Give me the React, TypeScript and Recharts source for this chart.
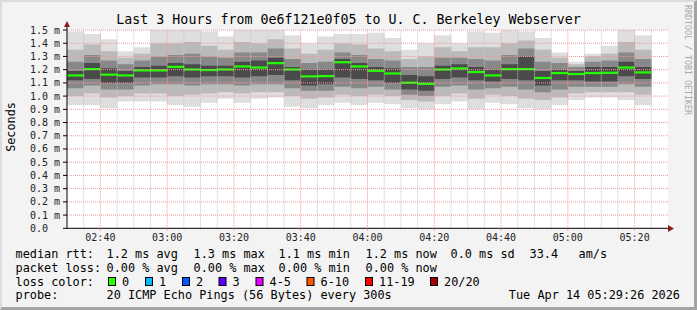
import { ComposedChart, Bar, XAxis, YAxis, CartesianGrid, ReferenceLine } from 'recharts';

// 5 minute slots, 02:30 .. 05:20 (start of each step)
const slotTimes = [
  '02:30', '02:35', '02:40', '02:45', '02:50', '02:55', '03:00', '03:05', '03:10', '03:15',
  '03:20', '03:25', '03:30', '03:35', '03:40', '03:45', '03:50', '03:55', '04:00', '04:05',
  '04:10', '04:15', '04:20', '04:25', '04:30', '04:35', '04:40', '04:45', '04:50', '04:55',
  '05:00', '05:05', '05:10', '05:15', '05:20',
];

// values in ms
const minRtt = [0.93, 0.93, 0.91, 0.96, 0.96, 0.96, 0.93, 0.92, 0.95, 0.98, 0.95, 0.98, 0.99, 0.92, 0.91, 0.93, 0.95, 0.93, 0.95, 0.94, 0.91, 0.9, 0.94, 0.96, 0.9, 0.95, 0.94, 0.91, 0.9, 0.93, 0.97, 0.99, 0.99, 0.97, 0.93];
const lowOuter = [1.0, 1.02, 0.99, 1.0, 1.02, 1.02, 1.0, 1.01, 1.02, 1.03, 1.02, 1.03, 1.03, 1.0, 0.98, 0.99, 1.01, 1.0, 1.01, 1.0, 0.97, 0.96, 1.0, 1.02, 0.98, 1.01, 1.0, 0.98, 0.97, 0.99, 1.02, 1.03, 1.03, 1.03, 1.01];
const lowInner = [1.06, 1.08, 1.05, 1.05, 1.08, 1.09, 1.09, 1.08, 1.09, 1.09, 1.08, 1.09, 1.09, 1.06, 1.04, 1.04, 1.07, 1.06, 1.07, 1.05, 1.01, 1.0, 1.07, 1.08, 1.05, 1.06, 1.07, 1.05, 1.03, 1.05, 1.07, 1.07, 1.07, 1.09, 1.07];
const lowCore = [1.12, 1.13, 1.1, 1.1, 1.14, 1.14, 1.15, 1.14, 1.15, 1.15, 1.14, 1.15, 1.16, 1.12, 1.08, 1.09, 1.14, 1.13, 1.12, 1.1, 1.05, 1.04, 1.13, 1.14, 1.12, 1.11, 1.13, 1.12, 1.08, 1.12, 1.12, 1.11, 1.11, 1.15, 1.13];
const medianRtt = [1.157, 1.205, 1.163, 1.157, 1.195, 1.195, 1.222, 1.202, 1.198, 1.202, 1.225, 1.217, 1.25, 1.202, 1.15, 1.152, 1.257, 1.225, 1.192, 1.172, 1.102, 1.093, 1.202, 1.21, 1.183, 1.157, 1.205, 1.205, 1.138, 1.175, 1.168, 1.175, 1.177, 1.217, 1.18];
const highCore = [1.19, 1.25, 1.21, 1.19, 1.22, 1.23, 1.25, 1.24, 1.23, 1.23, 1.26, 1.27, 1.29, 1.22, 1.2, 1.2, 1.28, 1.25, 1.22, 1.21, 1.16, 1.15, 1.23, 1.24, 1.22, 1.2, 1.24, 1.3, 1.19, 1.2, 1.19, 1.22, 1.22, 1.26, 1.22];
const highInner = [1.26, 1.31, 1.27, 1.24, 1.27, 1.3, 1.31, 1.32, 1.3, 1.29, 1.33, 1.33, 1.36, 1.28, 1.25, 1.26, 1.33, 1.31, 1.28, 1.27, 1.22, 1.22, 1.29, 1.29, 1.28, 1.27, 1.31, 1.36, 1.26, 1.25, 1.22, 1.26, 1.27, 1.33, 1.28];
const highOuter = [1.35, 1.39, 1.34, 1.29, 1.32, 1.4, 1.4, 1.41, 1.38, 1.35, 1.41, 1.4, 1.43, 1.36, 1.32, 1.35, 1.4, 1.39, 1.36, 1.34, 1.28, 1.3, 1.37, 1.34, 1.37, 1.37, 1.4, 1.42, 1.35, 1.29, 1.24, 1.3, 1.32, 1.41, 1.35];
const maxRtt = [1.49, 1.47, 1.43, 1.34, 1.37, 1.51, 1.5, 1.5, 1.49, 1.45, 1.5, 1.5, 1.51, 1.46, 1.4, 1.45, 1.47, 1.47, 1.48, 1.44, 1.35, 1.4, 1.46, 1.4, 1.49, 1.48, 1.51, 1.49, 1.44, 1.33, 1.26, 1.32, 1.38, 1.51, 1.46];

// x axis in minutes after 02:30
const xTickMinutes = [10, 30, 50, 70, 90, 110, 130, 150, 170];
const xTickLabels = ['02:40', '03:00', '03:20', '03:40', '04:00', '04:20', '04:40', '05:00', '05:20'];
const yTicks = [0, 0.1, 0.2, 0.3, 0.4, 0.5, 0.6, 0.7, 0.8, 0.9, 1.0, 1.1, 1.2, 1.3, 1.4, 1.5];

const lossLabels = ['0', '1', '2', '3', '4-5', '6-10', '11-19', '20/20'];
const lossColors = ['#26ff00', '#00b8ff', '#0059ff', '#5e00ff', '#e600ff', '#ff5500', '#ff0000', '#a10000'];

const rows: any[] = slotTimes.map((t, i) => ({
  t,
  outer: [minRtt[i], maxRtt[i]],
  l2: [lowOuter[i], highOuter[i]],
  l3: [lowInner[i], highInner[i]],
  l4: [lowCore[i], highCore[i]],
  median: medianRtt[i],
}));
rows.push({ t: '05:25' }); // empty last step

const MONO = 'DejaVu Sans Mono';
const W = 697;
const H = 310;

const minorMinutes = Array.from({ length: 35 }, (_, i) => (i + 1) * 5).filter((m) => (m - 10) % 20 !== 0);

function MedianMark(props: any) {
  const { x, y, width, height } = props;
  if (y == null || !height) return <g />;
  return <rect x={x} y={y - 1} width={width} height={2.2} fill="#22ff00" />;
}

function YTick(props: any) {
  const v = props.payload.value;
  const label = v === 0 ? '0.0' : v.toFixed(1) + ' m';
  return (
    <text x={props.x - 30} y={props.y} dy="0.35em" fontSize={10} fontFamily={MONO} fill="#222" textAnchor="start">
      {label}
    </text>
  );
}

const legendLine1: [string, number][] = [
  ['median rtt:', 16], ['1.2 ms avg', 107], ['1.3 ms max', 194], ['1.1 ms min', 279],
  ['1.2 ms now', 366], ['0.0 ms sd', 451], ['33.4', 530], ['am/s', 579],
];
const legendLine2: [string, number][] = [
  ['packet loss:', 16], ['0.00 % avg', 107], ['0.00 % max', 194], ['0.00 % min', 279], ['0.00 % now', 366],
];
const swatchX = [108.5, 145.5, 182.5, 219, 256, 307, 365.5, 430.5];

export default function App() {
  const bandAxes = ['a', 'b', 'c', 'd', 'm'];
  return (
    <div style={{ position: 'relative', width: W, height: H, background: '#f3f3f3', boxSizing: 'border-box' }}>
      <style>{'body{margin:0}'}</style>
      <div style={{ position: 'absolute', inset: 0, borderTop: '2px solid #dcdcdc', borderLeft: '2px solid #dcdcdc', borderRight: '3px solid #a3a3a3', borderBottom: '3px solid #a3a3a3' }} />

      {/* smoke + median */}
      <div style={{ position: 'absolute', left: 0, top: 0 }}>
        <ComposedChart width={W} height={H} data={rows} margin={{ top: 30, right: 29, left: 67, bottom: 81.7 }} barCategoryGap={0} barGap={0}>
          <CartesianGrid fill="#ffffff" horizontal={false} vertical={false} />
          {bandAxes.map((id) => (
            <XAxis key={id} xAxisId={id} dataKey="t" type="category" hide />
          ))}
          <YAxis domain={[0, 1.5]} type="number" hide allowDataOverflow />
          <Bar xAxisId="a" dataKey="outer" fill="#dedede" isAnimationActive={false} />
          <Bar xAxisId="b" dataKey="l2" fill="#bababa" isAnimationActive={false} />
          <Bar xAxisId="c" dataKey="l3" fill="#888888" isAnimationActive={false} />
          <Bar xAxisId="d" dataKey="l4" fill="#4a4a4a" isAnimationActive={false} />
          <Bar xAxisId="m" dataKey="median" shape={<MedianMark />} isAnimationActive={false} />
        </ComposedChart>
      </div>

      {/* grid + axes on top */}
      <div style={{ position: 'absolute', left: 0, top: 0 }}>
        <ComposedChart width={W} height={H} data={xTickMinutes.map((m) => ({ m }))} margin={{ top: 30, right: 29, left: 0, bottom: 61.7 }}>
          <XAxis
            dataKey="m"
            type="number"
            domain={[0, 180]}
            ticks={xTickMinutes}
            interval={0}
            height={20}
            tickFormatter={(v: number) => xTickLabels[xTickMinutes.indexOf(v)] ?? ''}
            tick={{ fontSize: 10, fontFamily: MONO, fill: '#222' }}
            tickSize={2}
            tickMargin={4}
            tickLine={{ stroke: '#e08080' }}
            axisLine={{ stroke: '#000' }}
            allowDataOverflow
          />
          <YAxis
            type="number"
            domain={[0, 1.5]}
            ticks={yTicks}
            interval={0}
            width={67}
            tick={<YTick />}
            tickSize={4}
            tickMargin={3}
            tickLine={{ stroke: '#000' }}
            axisLine={{ stroke: '#000' }}
            allowDataOverflow
          />
          {minorMinutes.map((m) => (
            <ReferenceLine key={'v' + m} x={m} stroke="#c4c4c4" strokeDasharray="1 1" />
          ))}
          {xTickMinutes.map((m) => (
            <ReferenceLine key={'V' + m} x={m} stroke="#f09a9a" strokeDasharray="1 1" />
          ))}
          {yTicks.slice(1).map((v) => (
            <ReferenceLine key={'h' + v} y={v} stroke="#f09a9a" strokeDasharray="1 1" />
          ))}
        </ComposedChart>
      </div>

      {/* texts and decorations */}
      <svg width={W} height={H} style={{ position: 'absolute', left: 0, top: 0, pointerEvents: 'none' }}>
        <text x={348.5} y={23.5} textAnchor="middle" fontFamily={MONO} fontSize={13.3} fill="#000">
          Last 3 Hours from 0e6f121e0f05 to U. C. Berkeley Webserver
        </text>
        <text x={15} y={127} transform="rotate(-90 15 127)" textAnchor="middle" fontFamily={MONO} fontSize={11.8} fill="#000">
          Seconds
        </text>
        <text x={685} y={5} transform="rotate(90 685 5)" fontFamily={MONO} fontSize={8.3} fill="#a8a8a8">
          RRDTOOL / TOBI OETIKER
        </text>
        <line x1={67} y1={26} x2={67} y2={30} stroke="#000" />
        <polygon points="64,27 70,27 67,21" fill="#8b1c1c" />
        <line x1={668} y1={228.5} x2={670} y2={228.5} stroke="#000" />
        <polygon points="668,225 668,232 674,228.5" fill="#8b1c1c" />

        {legendLine1.map(([s, x]) => (
          <text key={s + x} x={x - 0.5} y={258.3} fontFamily={MONO} fontSize={11.85} fill="#000">{s}</text>
        ))}
        {legendLine2.map(([s, x]) => (
          <text key={s + x} x={x - 0.5} y={271.8} fontFamily={MONO} fontSize={11.85} fill="#000">{s}</text>
        ))}
        <text x={15.5} y={285.5} fontFamily={MONO} fontSize={11.85} fill="#000">loss color:</text>
        {lossLabels.map((lbl, i) => (
          <g key={lbl}>
            <rect x={swatchX[i]} y={277.5} width={7} height={8} fill={lossColors[i]} stroke="#000" strokeWidth={1} />
            <text x={swatchX[i] + 13.5} y={285.5} fontFamily={MONO} fontSize={11.85} fill="#000">{lbl}</text>
          </g>
        ))}
        <text x={15.5} y={299} fontFamily={MONO} fontSize={11.85} fill="#000">probe:</text>
        <text x={106.5} y={299} fontFamily={MONO} fontSize={11.85} fill="#000">20 ICMP Echo Pings (56 Bytes) every 300s</text>
        <text x={680} y={299} textAnchor="end" fontFamily={MONO} fontSize={11.85} fill="#000">Tue Apr 14 05:29:26 2026</text>
      </svg>
    </div>
  );
}
